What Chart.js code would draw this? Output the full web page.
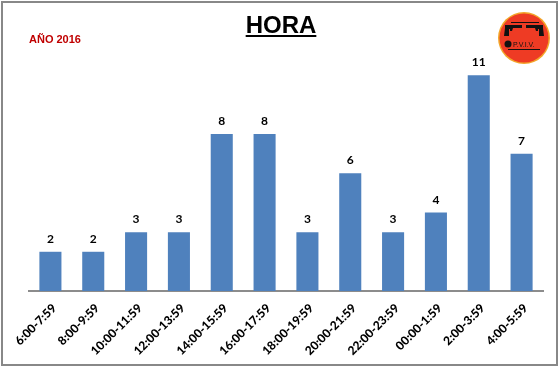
<!DOCTYPE html>
<html>
<head>
<meta charset="utf-8">
<script src="https://cdn.jsdelivr.net/npm/chart.js@4"></script>
<style>
    html, body { margin: 0; padding: 0; background: #fff; }
    #wrap { width: 559px; height: 367px; position: relative; }
</style>
</head>
<body>
<div id="wrap"><canvas id="myChart" width="559" height="367"></canvas></div>
<script>
const hours = [
    "6:00-7:59", "8:00-9:59", "10:00-11:59", "12:00-13:59",
    "14:00-15:59", "16:00-17:59", "18:00-19:59", "20:00-21:59",
    "22:00-23:59", "00:00-1:59", "2:00-3:59", "4:00-5:59",
];
const cases = [2, 2, 3, 3, 8, 8, 3, 6, 3, 4, 11, 7];
const titleText = "HORA";
const yearText = "AÑO 2016";

// frame, title, year and logo
const decorations = {
    id: "decorations",
    beforeDraw(chart) {
        const ctx = chart.ctx;
        ctx.save();
        ctx.fillStyle = "#ffffff";
        ctx.fillRect(0, 0, chart.width, chart.height);
        ctx.strokeStyle = "#888888";
        ctx.lineWidth = 2;
        ctx.strokeRect(2, 2, 555, 363);
        ctx.restore();
    },
    afterDraw(chart) {
        const ctx = chart.ctx;
        ctx.save();

        ctx.font = "bold 24px 'Liberation Sans', Arial, sans-serif";
        ctx.fillStyle = "#000";
        ctx.textAlign = "center";
        ctx.textBaseline = "alphabetic";
        ctx.fillText(titleText, 281, 33);
        const w = ctx.measureText(titleText).width;
        ctx.fillRect(281 - w / 2, 35, w, 2);

        ctx.font = "bold 11px 'Liberation Sans', Arial, sans-serif";
        ctx.fillStyle = "#c00000";
        ctx.textAlign = "left";
        ctx.fillText(yearText, 29, 43);

        drawLogo(ctx, 524, 38, 26);
        ctx.restore();
    },
};

function pistol(ctx, x, y, dir) {
    // grip at x, barrel running in direction dir
    ctx.beginPath();
    ctx.moveTo(x, y);
    ctx.lineTo(x + dir * 17, y);
    ctx.lineTo(x + dir * 17, y + 3);
    ctx.lineTo(x + dir * 8, y + 3);
    ctx.lineTo(x + dir * 7, y + 6);
    ctx.lineTo(x + dir * 5, y + 6);
    ctx.lineTo(x + dir * 5, y + 4);
    ctx.lineTo(x + dir * 4, y + 4);
    ctx.lineTo(x + dir * 4, y + 11);
    ctx.lineTo(x - dir * 1, y + 11);
    ctx.lineTo(x, y + 3);
    ctx.closePath();
    ctx.fill();
}

function drawLogo(ctx, cx, cy, r) {
    ctx.beginPath();
    ctx.arc(cx, cy, r, 0, Math.PI * 2);
    ctx.fillStyle = "#f3a52a";
    ctx.fill();
    ctx.beginPath();
    ctx.arc(cx, cy, r - 1.5, 0, Math.PI * 2);
    ctx.fillStyle = "#ee3b24";
    ctx.fill();

    ctx.fillStyle = "#111";
    ctx.fillRect(cx - 13, cy - 16, 28, 1);
    pistol(ctx, cx - 19, cy - 13, 1);
    pistol(ctx, cx + 19, cy - 13, -1);

    ctx.beginPath();
    ctx.arc(cx - 16, cy + 6, 3.5, 0, Math.PI * 2);
    ctx.fill();
    ctx.font = "7px 'Liberation Sans', Arial, sans-serif";
    ctx.textAlign = "left";
    ctx.fillText("P.V.I.V.", cx - 11, cy + 9);
    ctx.fillRect(cx - 16, cy + 11, 32, 1);
}

// numbers above bars
const valueLabels = {
    id: "valueLabels",
    afterDatasetsDraw(chart) {
        const ctx = chart.ctx;
        const meta = chart.getDatasetMeta(0);
        ctx.save();
        ctx.font = "bold 12px Lato, 'Open Sans', sans-serif";
        ctx.fillStyle = "#000";
        ctx.textAlign = "center";
        ctx.textBaseline = "alphabetic";
        meta.data.forEach((bar, i) => {
            ctx.fillText(String(cases[i]), bar.x, bar.y - 9);
        });
        ctx.restore();
    },
};

const data = {
    labels: hours,
    datasets: [
        {
            label: "Casos",
            backgroundColor: "#4f81bd",
            data: cases,
            barPercentage: 0.515,
            categoryPercentage: 1,
        },
    ],
};

const config = {
    type: "bar",
    data: data,
    options: {
        responsive: false,
        animation: false,
        layout: {
            padding: { left: 29, right: 16, top: 36, bottom: 0 },
        },
        plugins: {
            legend: { display: false },
            tooltip: { enabled: false },
        },
        scales: {
            y: {
                display: false,
                min: 0,
                max: 13,
            },
            x: {
                grid: { display: false },
                border: { display: true, color: "#8c8c8c", width: 2 },
                ticks: {
                    minRotation: 45,
                    maxRotation: 45,
                    color: "#000",
                    padding: 2,
                    labelOffset: 4,
                    font: { family: "Lato, 'Open Sans', sans-serif", weight: "900", size: 12 },
                },
                afterFit: (scale) => {
                    scale.height = 76;
                },
            },
        },
    },
    plugins: [decorations, valueLabels],
};

const myChart = new Chart(document.getElementById("myChart"), config);
</script>
</body>
</html>
